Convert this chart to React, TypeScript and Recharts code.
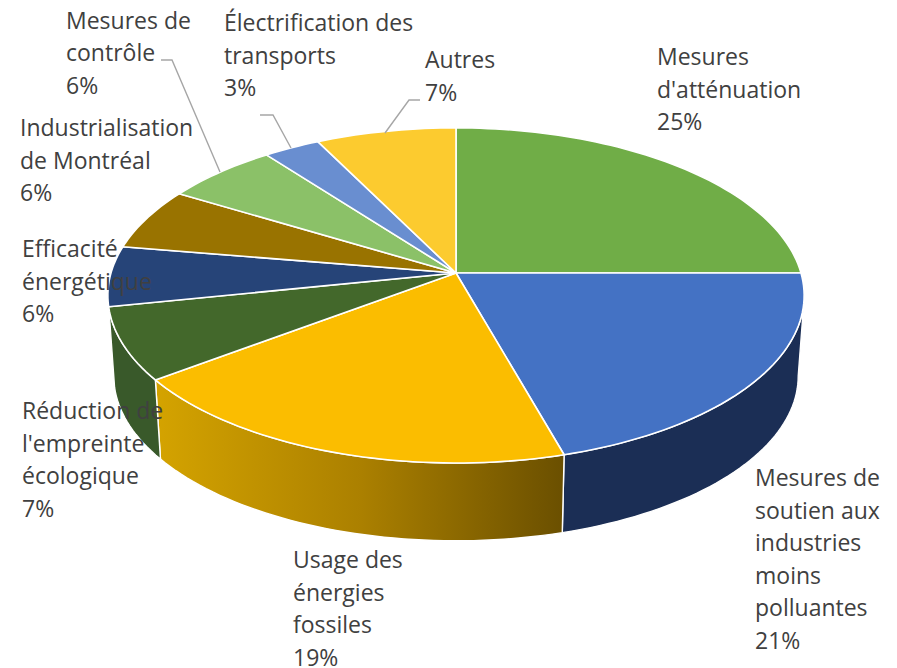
import { PieChart, Pie } from 'recharts';

// Slices go clockwise from twelve o'clock, percentages
const categories = [
  "Mesures d'atténuation",
  'Mesures de soutien aux industries moins polluantes',
  'Usage des énergies fossiles',
  "Réduction de l'empreinte écologique",
  'Efficacité énergétique',
  'Industrialisation de Montréal',
  'Mesures de contrôle',
  'Électrification des transports',
  'Autres',
];
const shares = [25, 20.6, 19.2, 7, 5.8, 6, 6, 3, 7.4];
const percentLabels = ['25%', '21%', '19%', '7%', '6%', '6%', '6%', '3%', '7%'];
const labelLines = [
  ['Mesures', "d'atténuation"],
  ['Mesures de', 'soutien aux', 'industries', 'moins', 'polluantes'],
  ['Usage des', 'énergies', 'fossiles'],
  ['Réduction de', "l'empreinte", 'écologique'],
  ['Efficacité', 'énergétique'],
  ['Industrialisation', 'de Montréal'],
  ['Mesures de', 'contrôle'],
  ['Électrification des', 'transports'],
  ['Autres'],
];

const topColors = ['#70ad47', '#4472c4', '#fbbd00', '#43682b', '#264478', '#997300', '#8bc168', '#698ed0', '#fccb2f'];
const wallColors = ['#3a5a24', '#1b2e55', 'url(#fossilWall)', '#39592a', '#1b2e55', '#5c4500', '#5c7a40', '#3c5a90', '#997a1c'];

// x and first baseline of each label block
const labelAnchors = [
  [657, 65], [755, 486], [293, 568], [22, 419], [22, 257], [20, 136], [66, 28.5], [224, 31], [425, 68],
];
// leader lines, only the three small slices at the top have one
const leaders: Record<number, string> = {
  6: '161,60 172,60 220,172',
  7: '260,115 273,115 291,148',
  8: '420,100 409,100 385,133',
};

const chartData = categories.map((name, i) => ({ name, value: shares[i] }));

const CX = 456;
const CY = 273;
const RADIUS = 345;
const TILT = 0.477; // vertical squash of the disc
const PERSPECTIVE = 0.134; // back of the disc is further away
const DEPTH = 81; // height of the wall
const FLOOR_SCALE = 0.983;

// theta is clockwise from twelve o'clock, in degrees
function project(cx: number, cy: number, r: number, theta: number, lower = false) {
  const a = (theta * Math.PI) / 180;
  const u = Math.sin(a);
  const v = Math.cos(a);
  const den = 1 + PERSPECTIVE * v;
  const s = lower ? FLOOR_SCALE : 1;
  return [cx + (s * r * u) / den, cy + (lower ? DEPTH : 0) - (s * r * TILT * v) / den];
}

function arc(cx: number, cy: number, r: number, from: number, to: number, lower = false) {
  const steps = Math.max(2, Math.ceil(Math.abs(to - from) / 1.5));
  const pts: string[] = [];
  for (let i = 0; i <= steps; i++) {
    const p = project(cx, cy, r, from + ((to - from) * i) / steps, lower);
    pts.push(p[0].toFixed(2) + ' ' + p[1].toFixed(2));
  }
  return pts;
}

function TopSlice(props: any) {
  const { cx, cy, outerRadius, startAngle, endAngle, index } = props;
  const pts = arc(cx, cy, outerRadius, 90 - startAngle, 90 - endAngle);
  const d = 'M' + cx + ' ' + cy + ' L' + pts.join(' L') + ' Z';
  return <path d={d} fill={topColors[index]} stroke="#fff" strokeWidth={1.6} strokeLinejoin="round" />;
}

// only the front of the disc has a visible wall
function WallSlice(props: any) {
  const { cx, cy, outerRadius, startAngle, endAngle, index } = props;
  const from = 90 - startAngle;
  const to = 90 - endAngle;
  const topFrom = Math.max(from, 100);
  const topTo = Math.min(to, 258);
  if (topFrom >= topTo) return null;
  const lowFrom = Math.max(from, 97.7);
  const lowTo = Math.min(to, 262.3);
  const pts = [...arc(cx, cy, outerRadius, topFrom, topTo), ...arc(cx, cy, outerRadius, lowTo, lowFrom, true)];
  return <path d={'M' + pts.join(' L') + ' Z'} fill={wallColors[index]} stroke="#fff" strokeWidth={1.4} strokeLinejoin="round" />;
}

function SliceLabel(props: any) {
  const { index } = props;
  const [x, y] = labelAnchors[index];
  const lines = [...labelLines[index], percentLabels[index]];
  return (
    <g>
      {leaders[index] && <polyline points={leaders[index]} fill="none" stroke="#a6a6a6" strokeWidth={1.4} />}
      <text x={x} y={y} fill="#404040" fontSize={23} fontFamily="'Open Sans', sans-serif">
        {lines.map((line, i) => (
          <tspan key={i} x={x} y={y + i * 32.6}>{line}</tspan>
        ))}
      </text>
    </g>
  );
}

export default function App() {
  return (
    <div style={{ position: 'absolute', left: 0, top: 0 }}>
      <PieChart width={897} height={668} margin={{ top: 0, right: 0, bottom: 0, left: 0 }}>
        <defs>
          <linearGradient id="fossilWall" gradientUnits="userSpaceOnUse" x1="157" y1="0" x2="565" y2="0">
            <stop offset="0" stopColor="#d4a300" />
            <stop offset="0.5" stopColor="#ab8000" />
            <stop offset="1" stopColor="#6a4f00" />
          </linearGradient>
        </defs>
        <Pie
          data={chartData}
          dataKey="value"
          nameKey="name"
          cx={CX}
          cy={CY}
          innerRadius={0}
          outerRadius={RADIUS}
          startAngle={90}
          endAngle={-270}
          shape={WallSlice}
          isAnimationActive={false}
        />
        <Pie
          data={chartData}
          dataKey="value"
          nameKey="name"
          cx={CX}
          cy={CY}
          innerRadius={0}
          outerRadius={RADIUS}
          startAngle={90}
          endAngle={-270}
          shape={TopSlice}
          label={SliceLabel}
          labelLine={false}
          isAnimationActive={false}
        />
      </PieChart>
    </div>
  );
}
